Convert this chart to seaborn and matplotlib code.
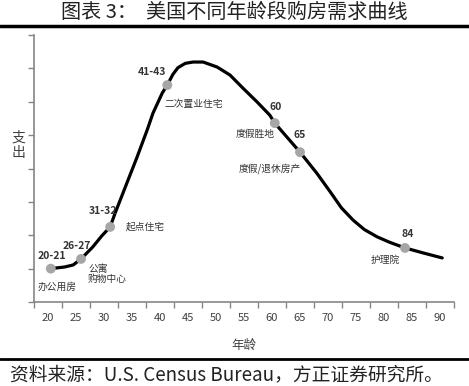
import matplotlib
matplotlib.use("Agg")
import matplotlib.pyplot as plt
from matplotlib.lines import Line2D
import seaborn as sns
import pandas as pd

# 曲线数据
ages = [20.5, 23.0, 24.5, 25.9, 28.0, 29.6, 31.1, 32.0, 34.1, 35.9, 37.7, 38.75,
        40.4, 41.3, 42.3, 43.2, 44.5, 45.9, 47.7, 50.2, 52.5, 54.8, 57.3, 59.6,
        60.5, 65.0, 68.0, 70.4, 72.4, 74.5, 76.5, 78.8, 81.0, 83.75, 87.0, 90.4]
spend = [1.0, 1.05, 1.11, 1.29, 1.65, 1.98, 2.25, 2.67, 3.57, 4.34, 5.15, 5.66,
         6.26, 6.5, 6.82, 7.02, 7.15, 7.19, 7.19, 7.04, 6.8, 6.41, 6.0, 5.6,
         5.36, 4.49, 3.86, 3.3, 2.82, 2.45, 2.17, 1.95, 1.79, 1.62, 1.47, 1.32]

# 关键节点
key_ages = [20.5, 25.9, 31.1, 41.3, 60.5, 65.0, 83.75]
key_spend = [1.0, 1.29, 2.25, 6.5, 5.36, 4.49, 1.62]
key_labels = ["20-21", "26-27", "31-32", "41-43", "60", "65", "84"]
key_types = ["办公用房", "公寓\n购物中心", "起点住宅", "二次置业住宅",
             "度假胜地", "度假/退休房产", "护理院"]

x_ticks = list(range(20, 95, 5))

curve = pd.DataFrame({"age": ages, "spend": spend})
keys = pd.DataFrame({"age": key_ages, "spend": key_spend})

sns.set_style("white")
plt.rcParams["font.family"] = ["Noto Sans CJK SC", "DejaVu Sans"]

fig = plt.figure(figsize=(4.69, 3.86), dpi=100)
ax = fig.add_axes([34 / 469, 84 / 386, 420 / 469, 267 / 386])

sns.lineplot(data=curve, x="age", y="spend", color="black", linewidth=2.3,
             ax=ax, sort=False)
sns.scatterplot(data=keys, x="age", y="spend", color="#a6a6a6", s=50,
                edgecolor="none", ax=ax, zorder=5)

# 标注：(数字偏移, 类型偏移, 类型对齐)
label_off = [(1, 13), (-4, 13), (-7, 16), (-15, 13), (1, 16), (0, 17), (3, 14)]
type_off = [(6, -18), (7, -15), (35, 0), (26, -19), (-20, -11), (-30, -16), (-20, -12)]
type_ha = ["center", "left", "center", "center", "center", "center", "center"]
for i in range(len(key_ages)):
    xy = (key_ages[i], key_spend[i])
    ax.annotate(key_labels[i], xy, xytext=label_off[i], textcoords="offset pixels",
                ha="center", va="center", fontsize=7.5, color="#333333",
                fontweight="bold")
    ax.annotate(key_types[i], xy, xytext=type_off[i], textcoords="offset pixels",
                ha=type_ha[i], va="center", fontsize=7, color="#333333",
                linespacing=1.1)

ax.set_xlim(17.5, 92.5)
ax.set_ylim(0, 8)
ax.set_xticks(x_ticks)
ax.set_xticks([17.5 + 5 * k for k in range(16)], minor=True)
ax.set_yticks(range(0, 9))
ax.set_yticklabels([])
ax.tick_params(axis="x", which="major", length=0, labelsize=8,
               labelcolor="#404040", pad=8)
ax.tick_params(axis="x", which="minor", length=4, width=1, color="#868686",
               direction="out", bottom=True)
ax.tick_params(axis="y", length=4, width=1, color="#868686", direction="out",
               left=True)
for side in ["top", "right"]:
    ax.spines[side].set_visible(False)
for side in ["left", "bottom"]:
    ax.spines[side].set_color("#868686")
    ax.spines[side].set_linewidth(1.2)

ax.set_xlabel("年龄", fontsize=9, color="#404040", labelpad=11)
ax.set_ylabel("")
fig.text(18 / 469, 1 - 145 / 386, "支\n出", ha="center", va="center",
         fontsize=10, color="#404040", linespacing=1.1)

fig.text(0.5, 1 - 12 / 386, "图表 3：  美国不同年龄段购房需求曲线",
         ha="center", va="center", fontsize=14.5, color="#222222")
fig.add_artist(Line2D([0, 1], [1 - 26 / 386] * 2, color="black", linewidth=2.5))
fig.add_artist(Line2D([0, 1], [1 - 359 / 386] * 2, color="black", linewidth=2))
fig.text(10 / 469, 1 - 375 / 386, "资料来源：U.S. Census Bureau，方正证券研究所。",
         ha="left", va="center", fontsize=13.5, color="#222222", style="italic")

fig.savefig("out.png", dpi=100)
